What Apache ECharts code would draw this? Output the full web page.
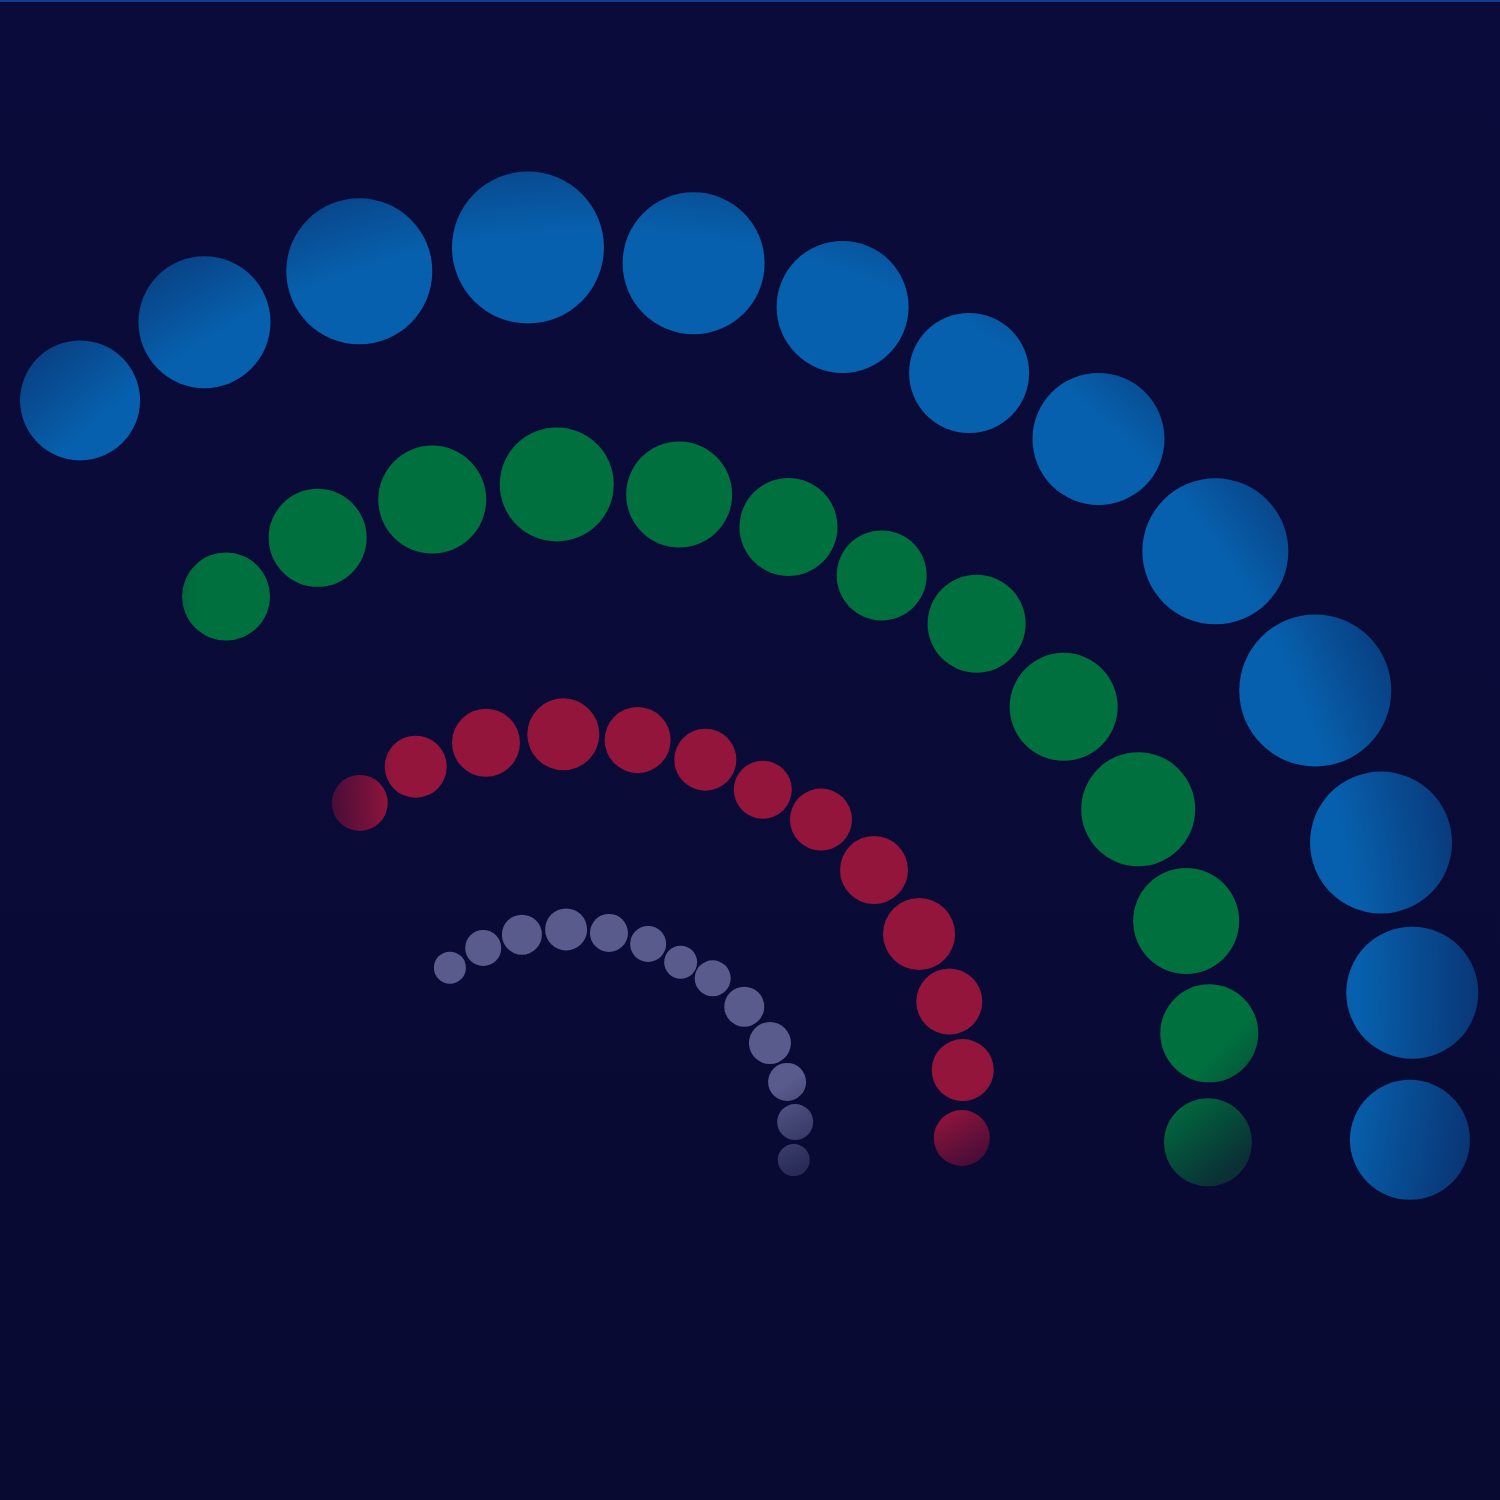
<!DOCTYPE html>
<html>
<head>
<meta charset="utf-8">
<title>Polar bubbles</title>
<script src="https://cdn.jsdelivr.net/npm/echarts@6.0.0/dist/echarts.min.js"></script>
<style>
  html, body { margin: 0; padding: 0; background: #0a0a38; }
  #chart { width: 1500px; height: 1500px; }
</style>
</head>
<body>
<div id="chart"></div>
<script>
// rings, outer to inner: radius (px from centre), angle (deg), bubble size
const blueRadius = [901, 909, 906, 904, 894, 883, 869, 880, 873, 867, 858, 847, 830];
const blueAngle = [123.7, 114.4, 104.1, 93.3, 82.7, 72.7, 63.4, 53.9, 43.3, 32.0, 21.0, 10.7, 0.7];
const blueSize = [120, 132, 146, 152, 142, 132, 120, 132, 146, 152, 142, 132, 120];

const greenRadius = [657, 666, 667, 666, 663, 657, 649, 659, 656, 654, 648, 640, 628];
const greenAngle = [122.6, 113.2, 102.8, 92.0, 81.4, 71.5, 62.3, 53.0, 42.5, 31.4, 20.7, 10.5, 0.7];
const greenSize = [88, 98, 108, 114, 106, 98, 90, 98, 108, 114, 106, 98, 88];

const redRadius = [411, 417, 418, 416, 414, 410, 404, 409, 406, 402, 398, 391, 382];
const redAngle = [122.4, 113.2, 103.0, 92.3, 82.0, 72.2, 63.1, 53.9, 43.6, 32.5, 21.9, 11.8, 1.8];
const redSize = [56, 62, 68, 72, 66, 62, 58, 62, 68, 72, 66, 62, 56];

const grayRadius = [224, 224, 223, 221, 219, 217, 213, 217, 218, 218, 218, 217, 214];
const grayAngle = [125.5, 115.6, 105.1, 93.6, 82.4, 71.7, 61.8, 52.3, 41.1, 29.4, 18.2, 7.4, 357.3];
const graySize = [32, 36, 40, 42, 38, 36, 33, 36, 40, 42, 38, 36, 32];

// shading: a light fill that darkens toward the outside of a circle (x, y, r on the canvas)
const rings = [
  { name: "blue", radius: blueRadius, angle: blueAngle, size: blueSize,
    light: "#0760ad", dark: "#0a2a66", glow: [600, 990, 915], lightEnd: 0.83 },
  { name: "green", radius: greenRadius, angle: greenAngle, size: greenSize,
    light: "#00703e", dark: "#0a3036", glow: [790, 640, 690], lightEnd: 0.86 },
  { name: "red", radius: redRadius, angle: redAngle, size: redSize,
    light: "#94153c", dark: "#300a36", glow: [762, 788, 450], lightEnd: 0.82 },
  { name: "gray", radius: grayRadius, angle: grayAngle, size: graySize,
    light: "#585b8b", dark: "#20224c", glow: [610, 780, 450], lightEnd: 0.78 }
];

var chart = echarts.init(document.getElementById("chart"));

function ringData(ring, withShade) {
  var out = [];
  ring.radius.forEach(function (r, i) {
    var item = { value: [r, ring.angle[i], ring.size[i]] };
    if (withShade) {
      // symbol gradients are local to each bubble, so move the canvas circle into its box
      var p = chart.convertToPixel({ polarIndex: 0 }, [r, ring.angle[i]]);
      var s = ring.size[i];
      var g = ring.glow;
      item.itemStyle = {
        color: new echarts.graphic.RadialGradient(
          (g[0] - (p[0] - s / 2)) / s,
          (g[1] - (p[1] - s / 2)) / s,
          g[2] / s,
          [
            { offset: 0, color: ring.light },
            { offset: ring.lightEnd, color: ring.light },
            { offset: 1, color: ring.dark }
          ])
      };
    }
    out.push(item);
  });
  return out;
}

function buildSeries(withShade) {
  return rings.map(function (ring) {
    return {
      name: ring.name,
      type: "scatter",
      coordinateSystem: "polar",
      data: ringData(ring, withShade),
      symbolSize: function (v) { return v[2]; },
      itemStyle: { color: ring.light, opacity: 1 },
      emphasis: { disabled: true }
    };
  });
}

var option = {
  animation: false,
  backgroundColor: "#0a0a38",
  graphic: [
    {
      type: "rect",
      z: -10,
      shape: { x: 0, y: 0, width: 1500, height: 1500 },
      style: {
        fill: new echarts.graphic.LinearGradient(0, 0, 0, 1, [
          { offset: 0, color: "#0b0b3b" },
          { offset: 1, color: "#080a32" }
        ])
      },
      silent: true
    },
    {
      type: "rect",
      z: 10,
      shape: { x: 0, y: 0, width: 1500, height: 2 },
      style: { fill: "#143c8e" },
      silent: true
    }
  ],
  polar: { center: [580, 1150], radius: [0, 1000] },
  angleAxis: { type: "value", min: 0, max: 360, startAngle: 0, clockwise: false, show: false },
  radiusAxis: { type: "value", min: 0, max: 1000, show: false },
  series: buildSeries(false)
};
chart.setOption(option);
chart.setOption({ series: buildSeries(true) });
</script>
</body>
</html>
